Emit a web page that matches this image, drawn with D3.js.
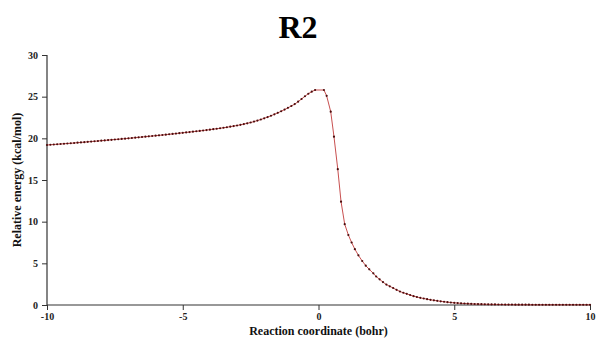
<!DOCTYPE html>
<html>
<head>
<meta charset="utf-8">
<script src="https://cdn.jsdelivr.net/npm/d3@7"></script>
<style>
  html, body { margin: 0; padding: 0; background: #fff; }
  text { font-family: "Liberation Serif", "DejaVu Serif", serif; font-weight: bold; }
</style>
</head>
<body>
<div id="chart"></div>
<script>
// Reaction path (x in bohr, energy in kcal/mol)
const coordLeft = [-10, -9.875, -9.75, -9.625, -9.5, -9.375, -9.25, -9.125, -9, -8.875, -8.75, -8.625, -8.5, -8.375, -8.25, -8.125,
  -8, -7.875, -7.75, -7.625, -7.5, -7.375, -7.25, -7.125, -7, -6.875, -6.75, -6.625, -6.5, -6.375, -6.25, -6.125,
  -6, -5.875, -5.75, -5.625, -5.5, -5.375, -5.25, -5.125, -5, -4.875, -4.75, -4.625, -4.5, -4.375, -4.25, -4.125,
  -4, -3.875, -3.75, -3.625, -3.5, -3.375, -3.25, -3.125, -3, -2.875, -2.75, -2.625, -2.5, -2.375, -2.25, -2.125,
  -2, -1.875, -1.75, -1.625, -1.5, -1.375, -1.25, -1.125, -1, -0.875, -0.75, -0.625, -0.5, -0.375, -0.25, -0.125];
const energyLeft = [19.20, 19.23, 19.26, 19.29, 19.32, 19.35, 19.38, 19.41, 19.44, 19.48, 19.51, 19.54, 19.58, 19.61, 19.65, 19.68,
  19.72, 19.75, 19.79, 19.82, 19.86, 19.89, 19.93, 19.96, 20.00, 20.04, 20.08, 20.12, 20.16, 20.20, 20.24, 20.28,
  20.32, 20.36, 20.40, 20.44, 20.49, 20.53, 20.57, 20.62, 20.66, 20.71, 20.75, 20.80, 20.85, 20.89, 20.94, 20.99,
  21.04, 21.10, 21.15, 21.21, 21.27, 21.33, 21.40, 21.47, 21.54, 21.62, 21.71, 21.80, 21.90, 22.01, 22.13, 22.26,
  22.40, 22.55, 22.71, 22.88, 23.06, 23.25, 23.45, 23.66, 23.88, 24.11, 24.40, 24.72, 25.05, 25.35, 25.60, 25.80];

const coordRight = [0.20, 0.30, 0.45, 0.57, 0.71, 0.83, 0.965, 1.10, 1.22, 1.34, 1.47, 1.61, 1.74, 1.87, 2.02,
  2.125, 2.25, 2.375, 2.5, 2.625, 2.75, 2.875, 3, 3.125, 3.25, 3.375, 3.5, 3.625, 3.75, 3.875,
  4, 4.125, 4.25, 4.375, 4.5, 4.625, 4.75, 4.875, 5, 5.125, 5.25, 5.375, 5.5, 5.625, 5.75, 5.875,
  6, 6.125, 6.25, 6.375, 6.5, 6.625, 6.75, 6.875, 7, 7.125, 7.25, 7.375, 7.5, 7.625, 7.75, 7.875,
  8, 8.125, 8.25, 8.375, 8.5, 8.625, 8.75, 8.875, 9, 9.125, 9.25, 9.375, 9.5, 9.625, 9.75, 9.875, 10];
const energyRight = [25.80, 25.10, 23.20, 20.20, 16.30, 12.40, 9.70, 8.40, 7.50, 6.70, 5.96, 5.28, 4.72, 4.28, 3.80,
  3.42, 3.08, 2.75, 2.45, 2.24, 2.04, 1.82, 1.62, 1.47, 1.34, 1.20, 1.06, 0.96, 0.86, 0.78,
  0.70, 0.62, 0.56, 0.50, 0.44, 0.39, 0.34, 0.30, 0.26, 0.23, 0.20, 0.18, 0.16, 0.14, 0.12, 0.11,
  0.10, 0.09, 0.08, 0.07, 0.07, 0.06, 0.06, 0.05, 0.05, 0.05, 0.04, 0.04, 0.04, 0.04, 0.04, 0.03,
  0.03, 0.03, 0.03, 0.03, 0.03, 0.03, 0.03, 0.03, 0.03, 0.03, 0.03, 0.03, 0.03, 0.03, 0.03, 0.03, 0.03];

const xTicks = [-10, -5, 0, 5, 10];
const yTicks = [0, 5, 10, 15, 20, 25, 30];

const width = 598, height = 341;
const margin = { top: 55, right: 8, bottom: 36, left: 47 };

const points = coordLeft.map((x, i) => ({ x, y: energyLeft[i] }))
  .concat(coordRight.map((x, i) => ({ x, y: energyRight[i] })));

const svg = d3.select("#chart").append("svg")
  .attr("width", width)
  .attr("height", height);

const x = d3.scaleLinear().domain([-10, 10]).range([margin.left, width - margin.right]);
const y = d3.scaleLinear().domain([0, 30]).range([height - margin.bottom, margin.top]);

// axes (plain hyphen minus like the original)
const fmt = d => String(d);
const xAxis = svg.append("g")
  .attr("transform", `translate(0,${height - margin.bottom})`)
  .call(d3.axisBottom(x).tickValues(xTicks).tickSize(5).tickPadding(3).tickFormat(fmt));
const yAxis = svg.append("g")
  .attr("transform", `translate(${margin.left},0)`)
  .call(d3.axisLeft(y).tickValues(yTicks).tickSize(5).tickPadding(4).tickFormat(fmt));

[xAxis, yAxis].forEach(g => {
  g.select(".domain").attr("stroke", "#333").attr("stroke-width", 1.2);
  g.selectAll(".tick line").attr("stroke", "#333");
  g.selectAll(".tick text")
    .attr("font-family", "Liberation Serif, serif")
    .attr("font-weight", "bold")
    .attr("font-size", 10)
    .attr("fill", "#222");
});
// axisBottom/axisLeft draw outer end caps; remove them to keep a plain line
xAxis.select(".domain").attr("d", `M${x(-10)},0H${x(10)}`);
yAxis.select(".domain").attr("d", `M0,${y(0)}V${y(30)}`);

// curve
const line = d3.line().x(d => x(d.x)).y(d => y(d.y));
svg.append("path")
  .datum(points)
  .attr("fill", "none")
  .attr("stroke", "#c85050")
  .attr("stroke-width", 1)
  .attr("d", line);

svg.append("g")
  .selectAll("circle")
  .data(points)
  .join("circle")
  .attr("cx", d => x(d.x))
  .attr("cy", d => y(d.y))
  .attr("r", 1.1)
  .attr("fill", "#4a0d0d");

// labels
svg.append("text")
  .attr("x", 298)
  .attr("y", 38)
  .attr("text-anchor", "middle")
  .attr("font-size", 32)
  .attr("fill", "#000")
  .text("R2");

svg.append("text")
  .attr("x", (margin.left + width - margin.right) / 2)
  .attr("y", 335)
  .attr("text-anchor", "middle")
  .attr("font-size", 12)
  .attr("fill", "#111")
  .text("Reaction coordinate (bohr)");

svg.append("text")
  .attr("transform", `translate(21,${(margin.top + height - margin.bottom) / 2}) rotate(-90)`)
  .attr("text-anchor", "middle")
  .attr("font-size", 12)
  .attr("fill", "#111")
  .text("Relative energy (kcal/mol)");
</script>
</body>
</html>
